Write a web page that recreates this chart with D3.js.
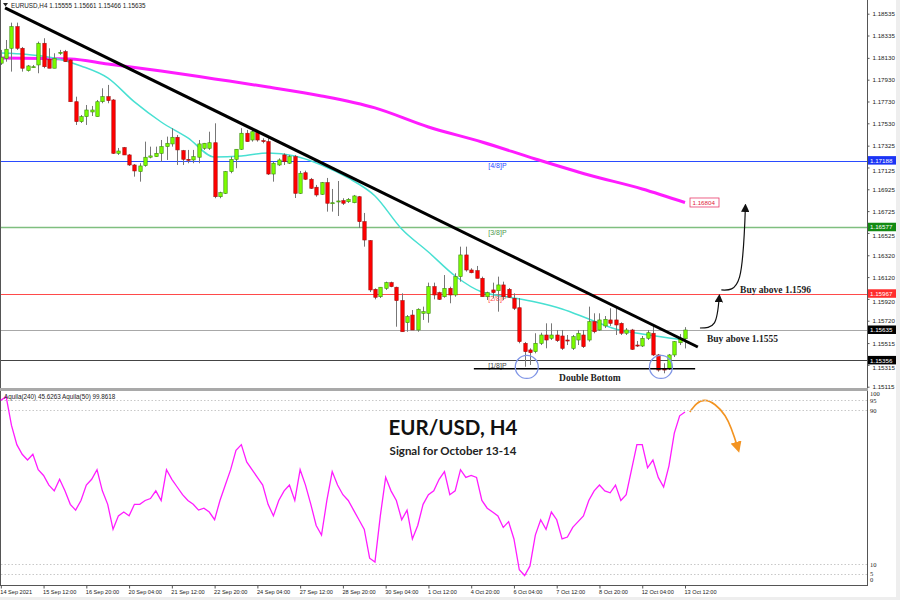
<!DOCTYPE html>
<html><head><meta charset="utf-8">
<script src="https://cdn.jsdelivr.net/npm/d3@7"></script>
<style>body{margin:0;background:#fff}svg{display:block}</style>
</head><body>
<svg id="c" width="900" height="600"></svg>
<script>
// ---------------- DATA ----------------
const symbol = "EURUSD,H4";
const lastOHLC = ["1.15555", "1.15661", "1.15466", "1.15635"];
const oscLegend = "Aquila(240) 45.6263  Aquila(50) 99.8618";
const tickBars = [0, 8, 16, 24, 32, 40, 48, 56, 64, 72, 80, 88, 96, 104, 112, 120, 128];
const tickLabels = ["14 Sep 2021", "15 Sep 12:00", "16 Sep 20:00", "20 Sep 04:00", "21 Sep 12:00", "22 Sep 20:00",
  "24 Sep 04:00", "27 Sep 12:00", "28 Sep 20:00", "30 Sep 04:00", "1 Oct 12:00", "4 Oct 20:00", "6 Oct 04:00",
  "7 Oct 12:00", "8 Oct 20:00", "12 Oct 04:00", "13 Oct 12:00"];
const priceTicks = [1.18535, 1.18335, 1.18130, 1.17930, 1.17730, 1.17530, 1.17325, 1.17125, 1.16925, 1.16725,
  1.16525, 1.16320, 1.16120, 1.15920, 1.15720, 1.15515, 1.15315, 1.15115];
const oscTicks = [100, 95, 90, 10, 5, 0];
const oscLevels = [95, 90, 10, 5];

const open = [1.18081,1.18126,1.18218,1.18416,1.18218,1.18013,1.18047,1.18065,1.18264,1.18117,
1.18035,1.18175,1.18187,1.18111,1.17728,1.17545,1.17591,1.17634,1.17591,1.17728,
1.17774,1.17744,1.17255,1.17307,1.1724,1.17148,1.17087,1.17142,1.17219,1.17224,
1.17255,1.17316,1.17341,1.17402,1.17279,1.172,1.17194,1.17219,1.17301,1.17301,
1.17352,1.16857,1.16888,1.17087,1.172,1.17292,1.17439,1.17377,1.17444,1.17371,
1.17362,1.17065,1.17148,1.1724,1.17164,1.17224,1.16888,1.17077,1.17017,1.16944,
1.16879,1.16986,1.16797,1.16811,1.16821,1.16811,1.16802,1.16857,1.16628,1.16454,
1.16008,1.1594,1.16017,1.16069,1.16027,1.15904,1.15702,1.15772,1.15635,1.15788,
1.15788,1.16032,1.15977,1.1594,1.16017,1.15956,1.16124,1.16323,1.16185,1.16179,
1.16109,1.1594,1.16002,1.15995,1.16048,1.16008,1.15925,1.15839,1.15513,1.15452,
1.15436,1.15513,1.15589,1.15559,1.15589,1.1558,1.15543,1.15467,1.15543,1.15589,
1.15543,1.15711,1.15635,1.15672,1.15727,1.15727,1.15696,1.15605,1.15635,1.15497,
1.15488,1.15559,1.15605,1.15406,1.15277,1.15284,1.15406,1.15518,1.15555];
const high = [1.18203,1.18294,1.18453,1.18453,1.1823,1.18065,1.18065,1.18279,1.1831,1.18218,
1.18172,1.18203,1.18203,1.1812,1.17774,1.17606,1.17698,1.17689,1.17744,1.17851,
1.17882,1.17753,1.17304,1.17313,1.17249,1.17157,1.17164,1.17362,1.17316,1.17316,
1.17377,1.17408,1.17485,1.17423,1.17286,1.17286,1.17286,1.17377,1.1735,1.17453,
1.1753,1.16903,1.17093,1.17224,1.17292,1.17485,1.17469,1.17485,1.17469,1.17393,
1.17393,1.17178,1.17209,1.17255,1.1724,1.1724,1.17093,1.17096,1.17029,1.16965,
1.16992,1.17029,1.16928,1.17001,1.16843,1.16845,1.16873,1.16864,1.16708,1.1646,
1.16017,1.16027,1.16078,1.16078,1.16032,1.15971,1.15772,1.15818,1.15834,1.15849,
1.16069,1.16069,1.15986,1.16139,1.16032,1.16155,1.16399,1.16399,1.16201,1.16222,
1.16124,1.15986,1.16069,1.16124,1.16078,1.1602,1.15971,1.15928,1.15525,1.15467,
1.15605,1.1561,1.15696,1.15696,1.15635,1.15635,1.15589,1.15589,1.15635,1.15635,
1.15849,1.15788,1.15788,1.15763,1.15834,1.15834,1.15705,1.15653,1.15645,1.15534,
1.1558,1.15635,1.15681,1.15415,1.1533,1.15415,1.15534,1.15598,1.15661];
const low = [1.18065,1.18095,1.18004,1.18203,1.18004,1.18004,1.18037,1.17989,1.18035,1.18035,
1.18035,1.18157,1.18093,1.17726,1.17515,1.17533,1.17515,1.17597,1.17591,1.17714,
1.17714,1.17249,1.1724,1.1724,1.17139,1.17041,1.16995,1.17132,1.17209,1.17221,
1.17178,1.17194,1.17316,1.17148,1.17148,1.17164,1.17164,1.17164,1.17286,1.17286,
1.16843,1.16843,1.16882,1.17072,1.17118,1.17286,1.17362,1.17362,1.17362,1.17347,
1.17056,1.16995,1.17139,1.17148,1.17157,1.16845,1.16882,1.1701,1.16928,1.16857,
1.16873,1.1672,1.1672,1.1668,1.16781,1.168,1.16797,1.1657,1.16399,1.15983,
1.15916,1.15928,1.16002,1.16027,1.15665,1.15619,1.15619,1.15635,1.15619,1.15727,
1.15702,1.15916,1.1591,1.15931,1.1588,1.1594,1.16078,1.1617,1.16155,1.16109,
1.1594,1.1591,1.15926,1.15803,1.1591,1.15928,1.15818,1.15513,1.15298,1.15314,
1.15421,1.15497,1.15467,1.15543,1.15525,1.15452,1.15497,1.15452,1.15497,1.1547,
1.15528,1.15605,1.15626,1.15653,1.15672,1.15589,1.15589,1.15589,1.15452,1.15479,
1.15479,1.15543,1.15397,1.15253,1.15238,1.15268,1.15387,1.15497,1.15466];
const close = [1.18136,1.18209,1.18416,1.18218,1.18035,1.18056,1.18049,1.18264,1.18049,1.18035,
1.18126,1.18181,1.18095,1.17728,1.17545,1.17591,1.17652,1.17652,1.17728,1.17774,
1.17738,1.17255,1.17276,1.1724,1.17148,1.17093,1.17139,1.17219,1.17231,1.17255,
1.17316,1.17347,1.17402,1.17286,1.172,1.17198,1.17224,1.17341,1.17347,1.17352,
1.16857,1.16894,1.17087,1.172,1.17292,1.17439,1.17362,1.17453,1.17377,1.17362,
1.17065,1.17164,1.17194,1.17178,1.17224,1.16888,1.17072,1.17017,1.16934,1.16873,
1.16986,1.16797,1.16802,1.16818,1.16797,1.16833,1.16864,1.16628,1.1646,1.16002,
1.15935,1.16027,1.16069,1.16032,1.15904,1.15619,1.15757,1.15635,1.15825,1.15803,
1.16032,1.15956,1.15916,1.16017,1.15956,1.16124,1.16323,1.16185,1.1616,1.16109,
1.1594,1.15977,1.15977,1.16048,1.1594,1.15935,1.15834,1.15528,1.15436,1.15427,
1.15513,1.15589,1.15543,1.15589,1.15537,1.15467,1.1554,1.15574,1.15605,1.15482,
1.15711,1.15619,1.15727,1.15733,1.15696,1.15681,1.15605,1.15635,1.15458,1.15494,
1.15559,1.1561,1.15406,1.15268,1.15275,1.15406,1.15528,1.15559,1.15635];

const maFastBars = [0,5,10,15,20,25,30,35,40,45,50,55,60,65,70,75,80,85,90,95,100,105,110,115,120,125,128];
const maFast = [1.18175,1.18161,1.18129,1.18056,1.17946,1.17726,1.17542,1.17396,1.17221,1.17231,1.17258,1.17231,
  1.17148,1.17029,1.16864,1.16561,1.1635,1.1613,1.15983,1.15938,1.15892,1.15828,1.15736,1.15644,1.15598,1.15562,1.15543];
const maSlowBars = [0,13,20,30,40,50,60,70,80,90,100,110,120,128];
const maSlow = [1.18129,1.1812,1.18074,1.1801,1.17937,1.17863,1.17781,1.17671,1.17496,1.17359,1.17203,1.17056,1.16928,1.16804];

const osc = [95,97,82,72,67,64,67,59,56,51,
48,54,48,41,38,43,51,54,59,48,
41,28,35,37,35,41,41,43,44,48,
43,59,54,50,46,43,41,38,39,37,
33,43,51,59,69,72,63,59,55,51,
41,35,43,48,51,43,59,51,41,30,
25,43,58,51,46,43,38,33,28,13,
11,35,55,48,43,33,38,23,30,41,
46,48,54,58,46,48,59,55,56,55,
43,39,37,35,29,32,23,7,4,9,
25,33,28,37,33,23,24,29,32,35,
43,48,51,48,47,51,43,46,59,72,
72,60,64,55,50,61,78,87,89];

// Murrey-style levels
const levelNames = ["[4/8]P", "[3/8]P", "[2/8]P", "[1/8]P"];
const levelValues = [1.17188, 1.16577, 1.15967, 1.15356];
const currentPrice = 1.15635;
const maSlowLast = 1.16804;

// annotations (bar index, price)
const trendLine = [[0.8, 1.18588], [130.4, 1.15479]];
const doubleBottomLine = [[88.5, 1.1528], [129.9, 1.1528]];
const bottomCircles = [[98.4, 1.15296], [123.5, 1.15296]];
const doubleBottomLabel = ["Double Bottom", 110.2, 1.1528];
const buyLabels = [["Buy above 1.1596", 138.3, 1.1596], ["Buy above 1.1555", 132.1, 1.1555]];
const arrowLow = [[130.8, 1.15653], [133.5, 1.1570], [134.4, 1.15935]];
const arrowHigh = [[134.8, 1.16002], [138.2, 1.1612], [139.3, 1.16763]];
const oscArrow = [[128.9, 89], [131.7, 95], [135.5, 87], [137.9, 70]];
const title = "EUR/USD, H4";
const subtitle = "Signal for October 13-14";

// ---------------- DRAW ----------------
const svg = d3.select("#c");
const axisX = 867;
const x = d3.scaleLinear().domain([0, 128]).range([0.8, 685]);
const y = d3.scaleLinear().domain([1.15115, 1.18535]).range([386.7, 13.7]);
const yo = d3.scaleLinear().domain([0, 100]).range([583.25, 390.75]);

const bars = open.map((o, i) => ({i, o, h: high[i], l: low[i], c: close[i]}));

svg.append("rect").attr("width", 900).attr("height", 600).attr("fill", "#fff");
svg.append("defs").append("clipPath").attr("id", "pc").append("rect")
  .attr("x", 1).attr("y", 0).attr("width", axisX - 1).attr("height", 388);

// level lines
const levelColors = ["#2a4bff", "#7fbf7f", "#ff4a4a", "#444"];
const levelWidths = [1, 1.6, 1, 1];
levelValues.forEach((v, k) => {
  svg.append("line").attr("x1", 1).attr("x2", axisX).attr("y1", Math.round(y(v)) + 0.5).attr("y2", Math.round(y(v)) + 0.5)
    .attr("stroke", levelColors[k]).attr("stroke-width", levelWidths[k]);
  svg.append("text").attr("x", x(91.2)).attr("y", y(v) + 7.5).text(levelNames[k])
    .attr("font-family", "Liberation Sans, Arial").attr("font-size", 7).attr("fill", levelColors[k] === "#7fbf7f" ? "#4e9a4e" : levelColors[k]);
});
svg.append("line").attr("x1", 1).attr("x2", axisX).attr("y1", Math.round(y(currentPrice)) + 0.5).attr("y2", Math.round(y(currentPrice)) + 0.5)
  .attr("stroke", "#a8a8a8").attr("stroke-width", 1);

const g = svg.append("g").attr("clip-path", "url(#pc)");

// slow MA
const ln = (bx, vals) => d3.line().x((d, k) => x(bx[k])).y(d => y(d)).curve(d3.curveMonotoneX)(vals);
g.append("path").attr("d", ln(maSlowBars, maSlow)).attr("fill", "none").attr("stroke", "#ff1cff").attr("stroke-width", 3);
g.append("path").attr("d", ln(maFastBars, maFast)).attr("fill", "none").attr("stroke", "#48e0d2").attr("stroke-width", 1.5);

// candles
const bw = 3.4;
const cg = g.append("g");
cg.selectAll("line.w").data(bars).join("line")
  .attr("x1", d => Math.round(x(d.i)) + 0.5).attr("x2", d => Math.round(x(d.i)) + 0.5)
  .attr("y1", d => y(d.h)).attr("y2", d => y(d.l))
  .attr("stroke", "#777").attr("stroke-width", 1);
cg.selectAll("rect.b").data(bars).join("rect")
  .attr("x", d => Math.round(x(d.i)) + 0.5 - bw / 2)
  .attr("y", d => y(Math.max(d.o, d.c)))
  .attr("width", bw)
  .attr("height", d => Math.max(1, Math.abs(y(d.o) - y(d.c))))
  .attr("fill", d => d.c >= d.o ? "#7cfc00" : "#ff0000")
  .attr("stroke", d => d.c >= d.o ? "#3a8a10" : "#a01010").attr("stroke-width", 0.6);

// trend line
g.append("line").attr("x1", x(trendLine[0][0])).attr("y1", y(trendLine[0][1]))
  .attr("x2", x(trendLine[1][0])).attr("y2", y(trendLine[1][1]))
  .attr("stroke", "#000").attr("stroke-width", 3);

// double bottom
svg.append("line").attr("x1", x(doubleBottomLine[0][0])).attr("x2", x(doubleBottomLine[1][0]))
  .attr("y1", y(doubleBottomLine[0][1])).attr("y2", y(doubleBottomLine[1][1]))
  .attr("stroke", "#000").attr("stroke-width", 1.5);
bottomCircles.forEach(c => svg.append("circle").attr("cx", x(c[0])).attr("cy", y(c[1])).attr("r", 11.5)
  .attr("fill", "none").attr("stroke", "#7f95e6").attr("stroke-width", 1.3));
svg.append("text").attr("x", x(doubleBottomLabel[1])).attr("y", y(doubleBottomLabel[2]) + 12)
  .attr("text-anchor", "middle").text(doubleBottomLabel[0])
  .attr("font-family", "Liberation Serif, Times New Roman").attr("font-weight", "bold").attr("font-size", 9.5).attr("fill", "#222");

// buy labels
buyLabels.forEach((b, k) => svg.append("text").attr("x", x(b[1])).attr("y", y(b[2]) + (k === 0 ? -1.5 : 3))
  .text(b[0]).attr("font-family", "Liberation Serif, Times New Roman").attr("font-weight", "bold")
  .attr("font-size", 9.5).attr("fill", "#222"));

// arrows
const defs = svg.select("defs");
defs.append("marker").attr("id", "ah").attr("viewBox", "0 0 10 10").attr("refX", 6).attr("refY", 5)
  .attr("markerWidth", 7).attr("markerHeight", 7).attr("orient", "auto")
  .append("path").attr("d", "M0,0 L10,5 L0,10 z").attr("fill", "#111");
defs.append("marker").attr("id", "aho").attr("viewBox", "0 0 10 10").attr("refX", 6).attr("refY", 5)
  .attr("markerWidth", 7).attr("markerHeight", 7).attr("orient", "auto")
  .append("path").attr("d", "M0,0 L10,5 L0,10 z").attr("fill", "#f39422");
const cl = d3.line().x(d => x(d[0])).y(d => y(d[1])).curve(d3.curveNatural);
[arrowLow, arrowHigh].forEach(a => svg.append("path").attr("d", cl(a)).attr("fill", "none")
  .attr("stroke", "#111").attr("stroke-width", 1.2).attr("marker-end", "url(#ah)"));
svg.append("path").attr("d", d3.line().x(d => x(d[0])).y(d => yo(d[1])).curve(d3.curveNatural)(oscArrow))
  .attr("fill", "none").attr("stroke", "#f39422").attr("stroke-width", 1.6).attr("marker-end", "url(#aho)");

// panel frame
svg.append("line").attr("x1", 0.5).attr("x2", 0.5).attr("y1", 0).attr("y2", 585).attr("stroke", "#555");
svg.append("line").attr("x1", axisX + 0.5).attr("x2", axisX + 0.5).attr("y1", 0).attr("y2", 586).attr("stroke", "#555");
svg.append("rect").attr("x", 0).attr("y", 388).attr("width", axisX + 1).attr("height", 3).attr("fill", "#a9a9a9");
svg.append("line").attr("x1", 0).attr("x2", axisX + 1).attr("y1", 585.5).attr("y2", 585.5).attr("stroke", "#555");
svg.append("rect").attr("x", 896).attr("y", 0).attr("width", 4).attr("height", 600).attr("fill", "#eee");
svg.append("rect").attr("x", 0).attr("y", 597).attr("width", 900).attr("height", 3).attr("fill", "#eee");

// price axis
const boxValues = [levelValues[0], levelValues[1], levelValues[2], currentPrice, levelValues[3]];
const ya = d3.axisRight(y).tickValues(priceTicks).tickFormat(d3.format(".5f")).tickSize(2).tickPadding(3);
const yag = svg.append("g").attr("transform", `translate(${axisX + 0.5},0)`).call(ya);
yag.select(".domain").remove();
yag.selectAll("text").attr("font-family", "Liberation Sans, Arial").attr("font-size", 6.2).attr("fill", "#222")
  .attr("dy", d => boxValues.some(b => b > d && y(d) - y(b) < 8) ? "0.75em" : "0.32em");
yag.selectAll("line").attr("stroke", "#555");

// price boxes
const boxes = [[levelValues[0], "#1b34f5"], [levelValues[1], "#138a13"], [levelValues[2], "#ff2d2d"],
  [currentPrice, "#000"], [levelValues[3], "#000"]];
boxes.forEach(b => {
  svg.append("rect").attr("x", axisX + 1).attr("y", y(b[0]) - 4.5).attr("width", 28).attr("height", 8.5).attr("fill", b[1]);
  svg.append("text").attr("x", axisX + 3).attr("y", y(b[0]) + 2.2).text(d3.format(".5f")(b[0]))
    .attr("font-family", "Liberation Sans, Arial").attr("font-size", 6.2).attr("fill", "#fff");
});
// slow MA end label
svg.append("rect").attr("x", x(128) + 5).attr("y", y(maSlowLast) - 4.5).attr("width", 29).attr("height", 9)
  .attr("fill", "#fff").attr("stroke", "#e83a6a").attr("stroke-width", 0.8);
svg.append("text").attr("x", x(128) + 7.5).attr("y", y(maSlowLast) + 2.2).text(d3.format(".5f")(maSlowLast))
  .attr("font-family", "Liberation Sans, Arial").attr("font-size", 6.2).attr("fill", "#e0203c");

// oscillator
oscLevels.forEach(v => svg.append("line").attr("x1", 1).attr("x2", axisX).attr("y1", Math.round(yo(v)) + 0.5).attr("y2", Math.round(yo(v)) + 0.5)
  .attr("stroke", "#c8c8c8").attr("stroke-dasharray", "1.5,2"));
svg.append("path").attr("d", d3.line().x((d, i) => x(i)).y(d => yo(d))(osc))
  .attr("fill", "none").attr("stroke", "#ff1cff").attr("stroke-width", 1.3);
oscTicks.forEach(v => svg.append("text").attr("x", axisX + 3).attr("y", yo(v) + (v === 100 ? 5 : v === 0 ? -1 : 2.5)).text(v)
  .attr("font-family", "Liberation Serif, Times New Roman").attr("font-size", 6.5).attr("fill", "#222"));

// x axis
const xa = d3.axisBottom(x).tickValues(tickBars).tickFormat((d, k) => tickLabels[k]).tickSize(3).tickPadding(2);
const xag = svg.append("g").attr("transform", "translate(0,585.5)").call(xa);
xag.select(".domain").remove();
xag.selectAll("text").attr("font-family", "Liberation Sans, Arial").attr("font-size", 5.6).attr("fill", "#222")
  .attr("text-anchor", "start").attr("dx", -1);
xag.selectAll("line").attr("stroke", "#555");

// headers
svg.append("path").attr("d", "M3,3 L8,3 L5.5,6.5 Z").attr("fill", "#222");
svg.append("text").attr("x", 11).attr("y", 7.5).text(symbol + "  " + lastOHLC.join(" "))
  .attr("font-family", "Liberation Sans, Arial").attr("font-size", 6.3).attr("fill", "#222");
svg.append("text").attr("x", 4).attr("y", 399).text(oscLegend)
  .attr("font-family", "Liberation Sans, Arial").attr("font-size", 6.3).attr("fill", "#222");

// title
svg.append("text").attr("x", 453).attr("y", 435).attr("text-anchor", "middle").text(title)
  .attr("font-family", "Lato, Open Sans").attr("font-weight", "bold").attr("font-size", 20.5).attr("fill", "#111");
svg.append("text").attr("x", 453).attr("y", 455).attr("text-anchor", "middle").text(subtitle)
  .attr("font-family", "Lato, Open Sans").attr("font-weight", "bold").attr("font-size", 11.5).attr("fill", "#222");
</script>
</body></html>
